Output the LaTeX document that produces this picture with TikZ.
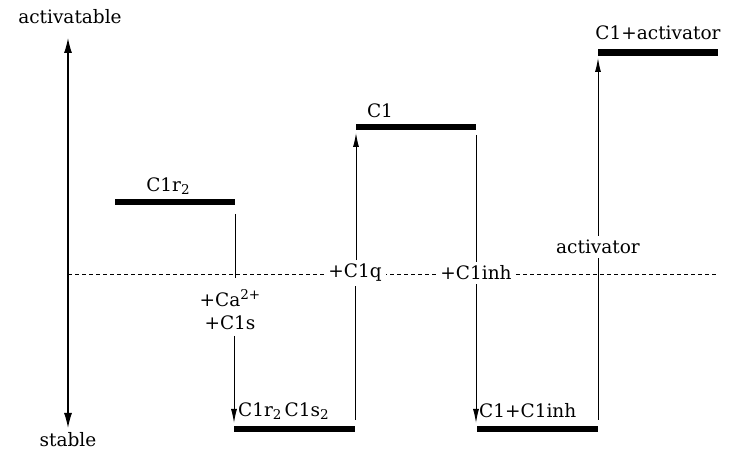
\documentclass[tikz,border=0pt]{standalone}
\usepackage{fontspec}
\setmainfont{DejaVu Serif}
\usetikzlibrary{arrows.meta}
\newcommand{\lowidx}[1]{\raisebox{-0.35ex}{\fontsize{13.5}{14}\selectfont #1}}
\newcommand{\highidx}[1]{\raisebox{0.75ex}{\fontsize{13.5}{14}\selectfont #1}}
\begin{document}
\begin{tikzpicture}[x=1pt,y=-1pt,
  txt/.style={font=\fontsize{18.5}{23}\selectfont, inner sep=1pt},
  lbl/.style={txt, fill=white, inner sep=4pt},
  bar/.style={line width=6.5pt},
  conn/.style={line width=1pt},
  arr/.style={conn, -{Latex[length=14pt,width=6pt]}},
  refline/.style={dash pattern=on 4pt off 3pt, line width=0.8pt}]
\useasboundingbox (0,0) rectangle (732,454);
% axis
\node[txt] (act) at (70,17) {activatable};
\node[txt] (stb) at (68,440) {stable};
\draw[line width=1.2pt, {Latex[length=15pt,width=8pt]}-{Latex[length=15pt,width=8pt]}] (68,38) -- (68,428);
% dashed reference line
\coordinate (dl) at (68,274);
\coordinate (dr) at (718,274);
\draw[refline] (dl) -- (dr);
% bars
\coordinate (r2l) at (115,202); \coordinate (r2r) at (235,202);
\coordinate (s2l) at (234,429); \coordinate (s2r) at (355,429);
\coordinate (c1l) at (356,127); \coordinate (c1r) at (476,127);
\coordinate (inl) at (477,429); \coordinate (inr) at (598,429);
\coordinate (acl) at (598,52.5);  \coordinate (acr) at (718,52.5);
\draw[bar] (r2l) -- (r2r);
\draw[bar] (s2l) -- (s2r);
\draw[bar] (c1l) -- (c1r);
\draw[bar] (inl) -- (inr);
\draw[bar] (acl) -- (acr);
% bar labels
\node[txt] (lr2) at (168,186) {C1r\lowidx{2}};
\node[txt, anchor=west] (ls2) at (237,411) {C1r\lowidx{2}\,C1s\lowidx{2}};
\node[txt] (lc1) at (380,111) {C1};
\node[txt, anchor=west] (lin) at (478,411) {C1+C1inh};
\node[txt] (lac) at (658,33) {C1+activator};
% step labels
\node[txt, align=center, inner sep=6pt] (ca) at (230,310) {+Ca\highidx{2+}\\+C1s};
\node[lbl] (c1q) at (355,273) {+C1q};
\node[lbl] (c1i) at (476,273) {+C1inh};
\node[lbl] (av) at (598,247) {activator};
% connectors
\coordinate (t1) at (235,214); \coordinate (b1) at (234,423);
\draw[conn] (t1) -- (235,278);
\draw[arr] (234,336) -- (b1);
\coordinate (b2) at (355,420); \coordinate (t2) at (356,133);
\draw[conn] (b2) -- (c1q.south -| b2);
\draw[arr] (c1q.north -| t2) -- (t2);
\coordinate (t3) at (476,135); \coordinate (b3) at (476,423);
\draw[conn] (t3) -- (c1i.north -| t3);
\draw[arr] (c1i.south -| b3) -- (b3);
\coordinate (b4) at (598,420); \coordinate (t4) at (598,58);
\draw[conn] (b4) -- (av.south -| b4);
\draw[arr] (av.north -| t4) -- (t4);
\end{tikzpicture}
\end{document}
